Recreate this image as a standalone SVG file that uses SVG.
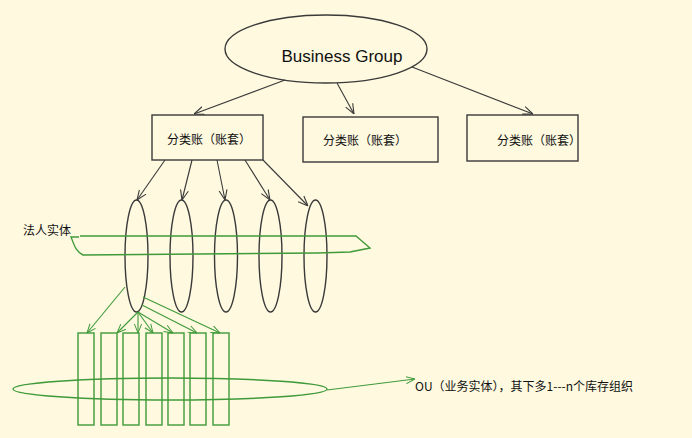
<svg xmlns="http://www.w3.org/2000/svg" width="692" height="438" viewBox="0 0 692 438">
<style>
.dk{fill:none;stroke:#3a3a3a;stroke-width:1.4}
.gr{fill:none;stroke:#3f9a3a;stroke-width:1.4}
.ad{stroke:#3a3a3a;stroke-width:1.1;fill:none;marker-end:url(#ah)}
.ag{stroke:#3f9a3a;stroke-width:1.1;fill:none;marker-end:url(#ahg)}
.t{font-family:"Noto Sans CJK SC","Liberation Sans",sans-serif;font-size:12px;fill:#111}
.bg{font-family:"Liberation Sans","Noto Sans",sans-serif;font-size:17px;fill:#111}
</style>
<defs>
<marker id="ah" viewBox="0 0 10 10" refX="10" refY="5" markerWidth="10" markerHeight="10" orient="auto" markerUnits="userSpaceOnUse"><path d="M0,1 L10,5 L0,9" fill="none" stroke="#3a3a3a" stroke-width="1.1"/></marker>
<marker id="ahg" viewBox="0 0 10 10" refX="10" refY="5" markerWidth="9" markerHeight="9" orient="auto" markerUnits="userSpaceOnUse"><path d="M0,1 L10,5 L0,9" fill="none" stroke="#3f9a3a" stroke-width="1.1"/></marker>
</defs>
<rect width="692" height="438" fill="#fef9df"/>

<g id="business-group">
<ellipse class="dk" cx="326" cy="49" rx="101" ry="34"/>
<text class="bg" x="342" y="62" text-anchor="middle">Business Group</text>
</g>

<g id="ledger-1">
<rect class="dk" x="152" y="115" width="111" height="45"/>
<text class="t" x="209" y="144" text-anchor="middle">分类账（账套）</text>
</g>
<g id="ledger-2">
<rect class="dk" x="303" y="117" width="135" height="45"/>
<text class="t" x="365" y="145" text-anchor="middle">分类账（账套）</text>
</g>
<g id="ledger-3">
<rect class="dk" x="467" y="115" width="111" height="46"/>
<text class="t" x="539" y="145" text-anchor="middle">分类账（账套）</text>
</g>

<g id="legal-entities">
<ellipse id="le1" class="dk" cx="136.5" cy="256" rx="11.5" ry="56"/>
<ellipse id="le2" class="dk" cx="181.5" cy="256" rx="11.5" ry="56"/>
<ellipse id="le3" class="dk" cx="226" cy="256" rx="11.5" ry="56"/>
<ellipse id="le4" class="dk" cx="270.5" cy="256" rx="11.5" ry="56"/>
<ellipse id="le5" class="dk" cx="315.5" cy="256" rx="11.5" ry="56"/>
</g>

<g id="legal-entity-band">
<path class="gr" d="M79,237 L71,237 C74,244 75,251 83,255 L317,253 L350,252 L370,248 L356,236 L80,236"/>
<text class="t" x="23" y="235">法人实体</text>
</g>

<g id="ou-units">
<rect class="gr" x="78" y="333" width="16" height="92"/>
<rect class="gr" x="101" y="333" width="16" height="92"/>
<rect class="gr" x="123" y="333" width="16" height="92"/>
<rect class="gr" x="146" y="333" width="16" height="92"/>
<rect class="gr" x="168" y="333" width="16" height="92"/>
<rect class="gr" x="190" y="333" width="16" height="92"/>
<rect class="gr" x="213" y="333" width="16" height="92"/>
</g>

<g id="ou-ellipse">
<ellipse class="gr" cx="170" cy="389" rx="157" ry="11"/>
<text class="t" x="415" y="391">OU（业务实体），其下多1---n个库存组织</text>
</g>

<g id="connectors">
<line class="ad" x1="285" y1="80" x2="194" y2="114"/>
<line class="ad" x1="337" y1="83" x2="354" y2="114"/>
<line class="ad" x1="412" y1="67" x2="533" y2="114"/>
<line class="ad" x1="165" y1="160" x2="137" y2="200"/>
<line class="ad" x1="192" y1="160" x2="182" y2="200"/>
<line class="ad" x1="217" y1="160" x2="225" y2="200"/>
<line class="ad" x1="245" y1="160" x2="270" y2="200"/>
<line class="ad" x1="263" y1="160" x2="308" y2="206"/>
<line class="ag" x1="125" y1="287" x2="87" y2="333"/>
<line class="ag" x1="138" y1="312" x2="117" y2="333"/>
<line class="ag" x1="138" y1="312" x2="138" y2="333"/>
<line class="ag" x1="138" y1="312" x2="153" y2="333"/>
<line class="ag" x1="138" y1="312" x2="173" y2="333"/>
<line class="ag" x1="142" y1="305" x2="197" y2="333"/>
<line class="ag" x1="143" y1="297" x2="220" y2="333"/>
<line class="ag" x1="327" y1="390" x2="415" y2="379"/>
</g>
</svg>
